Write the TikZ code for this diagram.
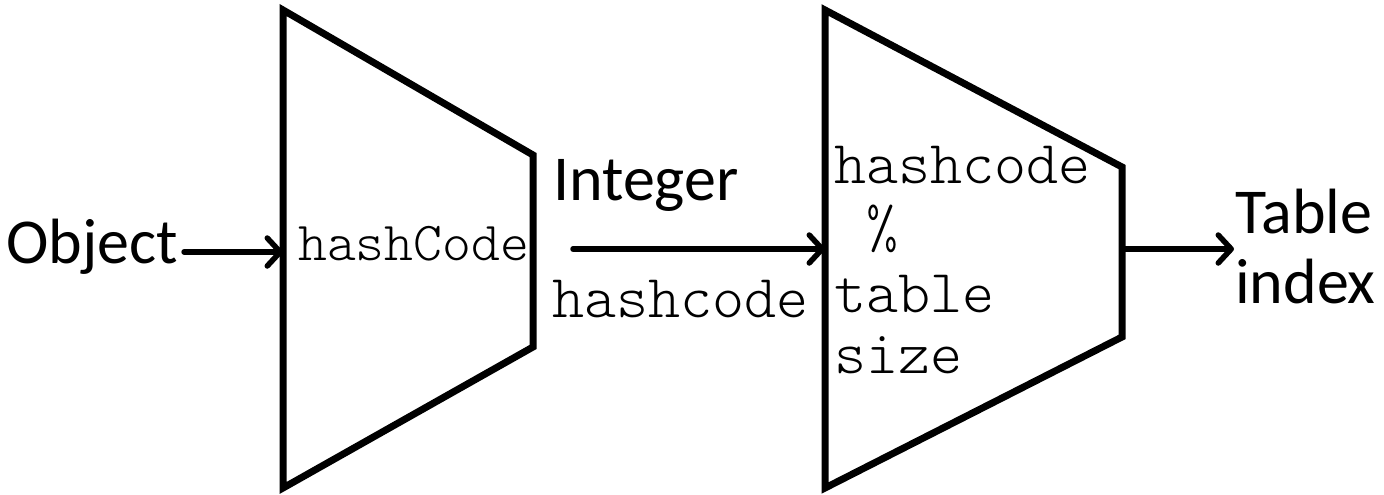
\documentclass[tikz,border=0pt]{standalone}
\usepackage{fontspec}
\setmainfont{Carlito}
\setmonofont{lmmonolt10-regular.otf}
\usetikzlibrary{arrows.meta}
\begin{document}
\begin{tikzpicture}[x=1pt,y=-1pt,
  funnel/.style={draw=black,line width=7pt,line join=miter,fill=white},
  arr/.style={draw=black,line width=5.5pt,line cap=round,
    -{Straight Barb[length=13pt,width=28pt,line cap=round,line join=round]}},
  lbl/.style={anchor=base west,inner sep=0pt,font=\fontsize{64}{70}\selectfont},
  code/.style={anchor=base west,inner sep=0pt,font=\fontsize{61}{63}\selectfont\ttfamily}]
\useasboundingbox (0,0) rectangle (1384,495);
% funnels
\draw[funnel] (283,10) -- (533,155) -- (533,347) -- (283,488) -- cycle;
\draw[funnel] (825,10) -- (1122,167) -- (1122,337) -- (825,488) -- cycle;
\coordinate (f1in) at (283,252);
\coordinate (f2in) at (825,249);
\coordinate (f2out) at (1122,249);
% texts
\node[lbl] (obj) at (6,263) {Object};
\node[code,font=\fontsize{55}{58}\selectfont\ttfamily] (hc1) at (298,260) {hashCode};
\node[lbl] (int) at (553,200) {Integer};
\node[code] (hc2) at (552,317) {hashcode};
\node[code] (m1) at (834,183) {hashcode};
\node[code] (m2) at (834,247) {\hphantom{h}\%};
\node[code] (m3) at (834,312) {table};
\node[code] (m4) at (834,373) {size};
\node[lbl] (tab) at (1235,233) {Table};
\node[lbl] (idx) at (1235,303) {index};
% connectors
\coordinate (a1s) at ([xshift=6pt]obj.east |- f1in);
\coordinate (a2s) at (573,249);
\coordinate (a3e) at ([xshift=-1pt]tab.west |- f2out);
\draw[arr] (a1s) -- (f1in);
\draw[arr] (a2s) -- (f2in);
\draw[arr] (f2out) -- (a3e);
\end{tikzpicture}
\end{document}
